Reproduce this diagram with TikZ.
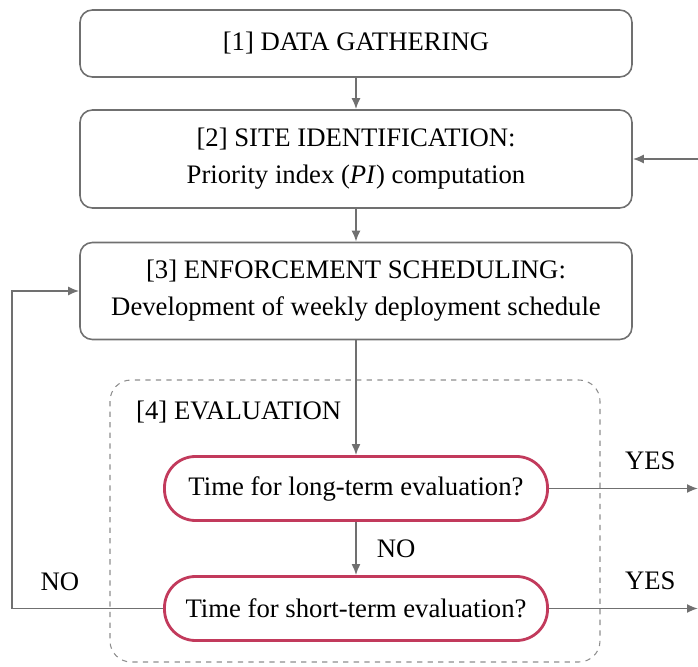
\documentclass[tikz,border=0pt]{standalone}
\usepackage{fontspec}
\setmainfont{Liberation Serif}
\usepackage{xcolor}
\usepackage{tikz}
\usetikzlibrary{arrows.meta}

\definecolor{linegray}{HTML}{707070}
\definecolor{evalred}{HTML}{C23A5C}

\begin{document}
\begin{tikzpicture}[
        font=\fontsize{15.2}{19}\selectfont,
        stage/.style={draw=linegray, line width=0.9pt, rectangle, rounded corners=7pt, minimum width=11.04cm, align=center},
        check/.style={draw=evalred, line width=1.6pt, rectangle, rounded corners=0.62cm, minimum width=7.66cm, minimum height=1.28cm},
        group/.style={draw=linegray!80, dashed, line width=0.6pt, rounded corners=12pt},
        arrow/.style={-{Latex[length=2.2mm,width=1.8mm]}, draw=linegray, line width=1pt}
    ]
    \useasboundingbox (0,0) rectangle (13.96,-13.34);

    % Evaluation group
    \draw[group] (2.2,-7.6) rectangle (12.0,-13.24);
    \node[anchor=west] (evallabel) at (2.6,-8.24) {[4] EVALUATION};

    % Stage blocks
    \node[stage, minimum height=1.34cm] (gather) at (7.12,-0.87) {[1] DATA GATHERING};
    \node[stage, minimum height=1.96cm] (site) at (7.12,-3.18) {[2] SITE IDENTIFICATION:\\[2pt] Priority index (\textit{PI}) computation};
    \node[stage, minimum height=1.94cm] (sched) at (7.12,-5.82) {[3] ENFORCEMENT SCHEDULING:\\[2pt] Development of weekly deployment schedule};

    % Evaluation checks
    \node[check] (longterm) at (7.12,-9.77) {Time for long-term evaluation?};
    \node[check] (shortterm) at (7.12,-12.17) {Time for short-term evaluation?};

    % Free ends on the borders
    \coordinate (backin) at (13.96,-3.18);
    \coordinate (longout) at (13.96,-9.77);
    \coordinate (shortout) at (13.96,-12.17);
    \coordinate (loopcorner) at (0.24,-12.17);

    % Connectors
    \draw[arrow] (gather) -- (site);
    \draw[arrow] (site) -- (sched);
    \draw[arrow] (sched) -- (longterm);
    \draw[arrow] (longterm) -- (shortterm) node[midway, right=8pt] {NO};
    \draw[arrow] (longterm) -- (longout) node[pos=0.68, above=7pt] {YES};
    \draw[arrow] (shortterm) -- (shortout) node[pos=0.68, above=7pt] {YES};
    \draw[arrow] (backin) -- (site);
    \draw[arrow] (shortterm.west) -- (loopcorner) |- (sched.west);
    \node (loopno) at (1.2,-11.64) {NO};

\end{tikzpicture}
\end{document}
